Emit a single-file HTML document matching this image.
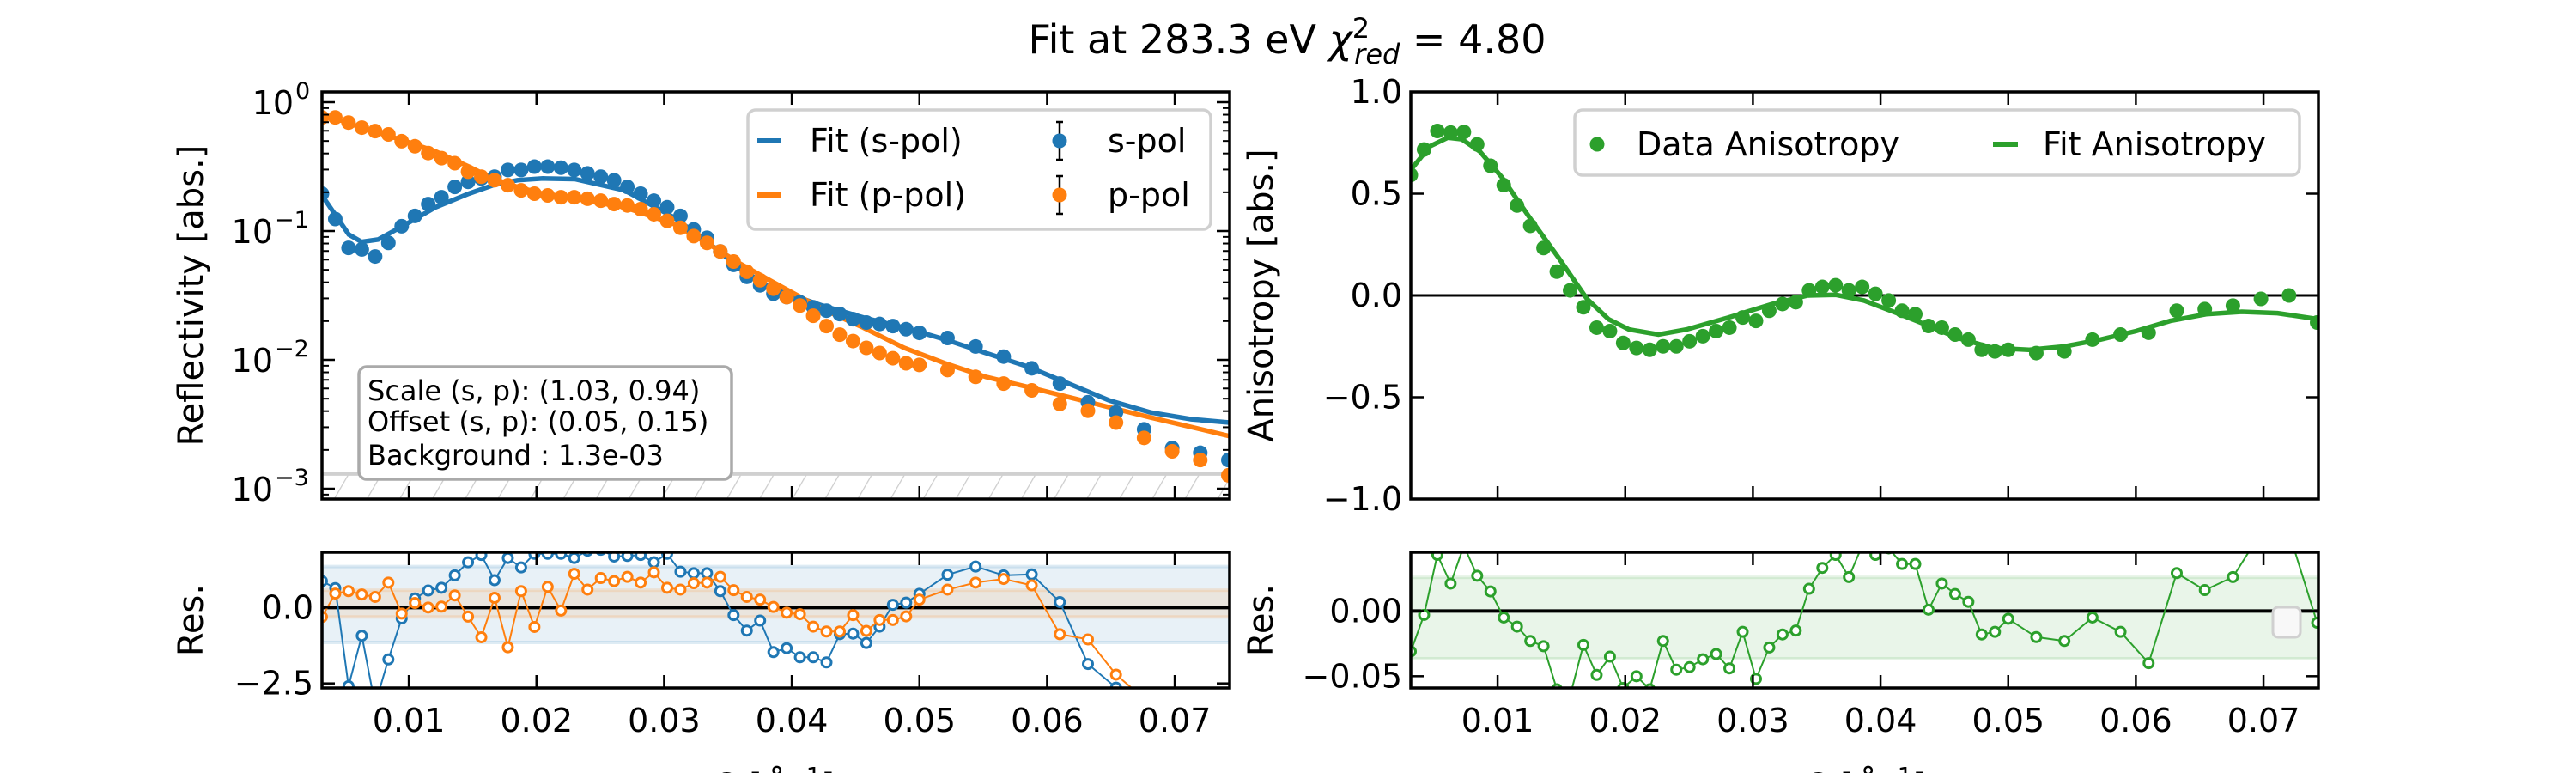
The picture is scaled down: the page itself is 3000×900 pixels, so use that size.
<!DOCTYPE html>
<html><head><meta charset="utf-8"><style>
html,body{margin:0;padding:0;background:#fff;}
svg{display:block;font-family:"DejaVu Sans","Liberation Sans",sans-serif;}
</style></head><body>
<svg id="fig" width="3000" height="900" viewBox="0 0 3000 900" xmlns="http://www.w3.org/2000/svg">
<defs>
<clipPath id="cTL"><rect x="375" y="107" width="1057" height="474"/></clipPath>
<clipPath id="cTR"><rect x="1643" y="107" width="1057" height="474"/></clipPath>
<clipPath id="cBL"><rect x="375" y="643" width="1057" height="158"/></clipPath>
<clipPath id="cBR"><rect x="1643" y="643" width="1057" height="158"/></clipPath>
<pattern id="hatch" patternUnits="userSpaceOnUse" width="33" height="33" patternTransform="rotate(30)">
<line x1="0" y1="0" x2="0" y2="33" stroke="#cccccc" stroke-width="2.5"/></pattern>
</defs>
<text x="1499" y="62" font-size="46" text-anchor="middle">Fit at 283.3 eV <tspan font-style="italic">χ</tspan><tspan font-size="32" dy="-18">2</tspan><tspan font-size="32" font-style="italic" dx="-18" dy="30">red</tspan><tspan dy="-12"> = 4.80</tspan></text>
<g id="gTL"></g>
<g id="gTR"></g>
<g id="gBL"></g>
<g id="gBR"></g>
</svg>
<script>
const q = [0.0032,0.00424,0.00528,0.00632,0.00736,0.0084,0.00944,0.01048,0.01152,0.01256,0.0136,0.01464,0.01568,0.01672,0.01776,0.0188,0.01984,0.02088,0.02192,0.02296,0.024,0.02504,0.02608,0.02712,0.02816,0.0292,0.03024,0.03128,0.03232,0.03336,0.0344,0.03544,0.03648,0.03752,0.03856,0.0396,0.04064,0.04168,0.04272,0.04376,0.0448,0.04584,0.04688,0.04792,0.04896,0.05,0.0522,0.0544,0.0566,0.0588,0.061,0.0632,0.0654,0.0676,0.0698,0.072,0.0742];
const sData = [0.195,0.124,0.074,0.072,0.0635,0.081,0.109,0.131,0.162,0.183,0.22,0.241,0.256,0.264,0.298,0.298,0.316,0.316,0.31,0.298,0.28,0.264,0.248,0.22,0.195,0.172,0.153,0.131,0.103,0.0886,0.0695,0.0546,0.0441,0.0379,0.0326,0.0307,0.028,0.0256,0.0241,0.0227,0.0207,0.0195,0.019,0.0183,0.0173,0.0162,0.0148,0.0127,0.0106,0.0086,0.00654,0.00469,0.00391,0.00289,0.00207,0.0019,0.00167];
const pData = [0.762,0.762,0.695,0.635,0.597,0.562,0.498,0.455,0.403,0.368,0.336,0.289,0.264,0.248,0.227,0.207,0.195,0.189,0.183,0.183,0.178,0.172,0.162,0.158,0.148,0.135,0.12,0.106,0.0914,0.081,0.0695,0.058,0.0483,0.0415,0.0357,0.0307,0.0264,0.022,0.0183,0.0157,0.014,0.0124,0.0113,0.0103,0.0094,0.00914,0.00834,0.00738,0.00654,0.0058,0.00455,0.00403,0.00326,0.00248,0.00195,0.00167,0.00127];
const qFit = [0.0032,0.0044,0.0053,0.0063,0.0076,0.0095,0.0121,0.0147,0.0166,0.0185,0.0205,0.0230,0.0269,0.0308,0.0340,0.0359,0.0385,0.0424,0.0456,0.0488,0.0520,0.0552,0.0585,0.0617,0.0649,0.0681,0.0713,0.0743];
const sFit = [0.189,0.127,0.094,0.0824,0.0859,0.109,0.153,0.195,0.227,0.248,0.256,0.253,0.207,0.127,0.0738,0.0514,0.0357,0.0264,0.0213,0.0178,0.0144,0.0113,0.00886,0.00654,0.00483,0.00391,0.00346,0.00326];
const pFit = [0.809,0.738,0.687,0.635,0.58,0.507,0.415,0.316,0.256,0.22,0.195,0.178,0.153,0.113,0.0738,0.0562,0.0403,0.0248,0.0178,0.0124,0.0094,0.00738,0.00616,0.00514,0.00428,0.00357,0.00301,0.00256];
const aniData = [0.592,0.717,0.808,0.80,0.803,0.742,0.637,0.542,0.442,0.342,0.233,0.117,0.025,-0.058,-0.158,-0.175,-0.233,-0.258,-0.267,-0.25,-0.25,-0.225,-0.2,-0.175,-0.158,-0.108,-0.125,-0.075,-0.042,-0.033,0.025,0.042,0.05,0.025,0.042,0.008,-0.025,-0.075,-0.092,-0.15,-0.158,-0.192,-0.217,-0.267,-0.275,-0.267,-0.283,-0.275,-0.217,-0.192,-0.183,-0.075,-0.067,-0.05,-0.017,0.0,-0.133];
const qAniFit = [0.0032,0.0047,0.0061,0.0072,0.0086,0.0103,0.0125,0.0148,0.0170,0.0187,0.0203,0.0226,0.0248,0.0281,0.0315,0.0343,0.0365,0.0387,0.0415,0.0438,0.0460,0.0488,0.0516,0.0544,0.0572,0.0600,0.0627,0.0655,0.0683,0.0711,0.0743];
const aniFit = [0.617,0.733,0.775,0.767,0.708,0.583,0.383,0.183,-0.017,-0.117,-0.167,-0.192,-0.167,-0.108,-0.042,0.0,0.003,-0.025,-0.092,-0.15,-0.208,-0.258,-0.267,-0.25,-0.217,-0.175,-0.125,-0.092,-0.08,-0.087,-0.117];
const sRes = [0.87,0.64,-2.59,-0.93,-3.2,-1.71,-0.36,0.30,0.56,0.65,1.06,1.49,1.73,0.90,1.63,1.32,1.77,1.77,1.77,1.63,1.87,1.9,1.68,1.70,1.73,1.49,1.77,1.18,1.13,1.13,0.54,-0.25,-0.76,-0.43,-1.47,-1.34,-1.64,-1.64,-1.81,-0.88,-0.86,-1.17,-0.63,0.09,0.16,0.45,1.08,1.35,1.06,1.09,0.18,-1.86,-2.64,-3.5,-4,-4,-4];
const pRes = [-0.31,0.46,0.54,0.43,0.35,0.82,-0.2,0.15,0.0,0.03,0.4,-0.3,-0.98,0.32,-1.31,0.54,-0.64,0.68,-0.10,1.11,0.59,0.97,0.87,1.01,0.82,1.16,0.65,0.59,0.80,0.82,1.01,0.57,0.35,0.26,0.02,-0.17,-0.22,-0.63,-0.79,-0.79,-0.25,-0.77,-0.41,-0.41,-0.29,0.26,0.59,0.82,0.94,0.73,-0.88,-1.05,-2.21,-3.0,-3.5,-3.5,-3.5];
const aniRes = [-0.031,-0.003,0.043,0.021,0.05,0.027,0.015,-0.005,-0.012,-0.023,-0.027,-0.06,-0.065,-0.026,-0.049,-0.035,-0.059,-0.05,-0.06,-0.023,-0.045,-0.043,-0.037,-0.033,-0.044,-0.016,-0.052,-0.028,-0.018,-0.015,0.017,0.033,0.043,0.026,0.05,0.043,0.048,0.036,0.036,0.001,0.021,0.013,0.007,-0.018,-0.016,-0.006,-0.020,-0.023,-0.005,-0.016,-0.040,0.029,0.016,0.026,0.06,0.06,-0.009];
const xTicks = [0.01,0.02,0.03,0.04,0.05,0.06,0.07];
const xTickLabels = ["0.01","0.02","0.03","0.04","0.05","0.06","0.07"];
const aniTicks = [1.0,0.5,0.0,-0.5,-1.0];
const aniTickLabels = ["1.0","0.5","0.0","\u22120.5","\u22121.0"];
const resTicksL = [0.0,-2.5];
const resTickLabelsL = ["0.0","\u22122.5"];
const resTicksR = [0.0,-0.05];
const resTickLabelsR = ["0.00","\u22120.05"];
const decades = [0,-1,-2,-3];
const background = 1.3e-3;
const sBand = [-1.15,1.35], pBand = [-0.31,0.57], gBand = [-0.0366,0.0258];

const NS = "http://www.w3.org/2000/svg";
const C = {s:"#1f77b4", p:"#ff7f0e", g:"#2ca02c"};
function mk(tag, attrs, parent){const e=document.createElementNS(NS,tag);for(const k in attrs)e.setAttribute(k,attrs[k]);if(parent)parent.appendChild(e);return e;}
const Q0=0.0032,Q1=0.0743;
const xL = v => 375 + (v-Q0)/(Q1-Q0)*1057;
const xR = v => 1643 + (v-Q0)/(Q1-Q0)*1057;
const yLog = v => 107 + (0.08 - Math.log10(v))/3.16*474;
const yAni = v => 107 + (1 - v)/2*474;
const yResL = v => 643 + (1.82 - v)/4.47*158;
const yResR = v => 643 + (0.045 - v)/0.104*158;
function path(xs, ys, fx, fy){return xs.map((x,i)=>(i?"L":"M")+fx(x).toFixed(1)+","+fy(ys[i]).toFixed(1)).join("");}

function frame(g, x0, y0, w, h, fx){
  const f = mk("rect",{x:x0,y:y0,width:w,height:h,fill:"none",stroke:"#000","stroke-width":3.5},g);
  
  
  xTicks.forEach(t=>{
    const X=fx(t);
    const a=mk("line",{x1:X,y1:y0,x2:X,y2:y0+15,stroke:"#000","stroke-width":2.5},g);
    
    
    const b=mk("line",{x1:X,y1:y0+h,x2:X,y2:y0+h-15,stroke:"#000","stroke-width":2.5},g);
    
    
  });
}
function yTicks(g, x0, w, vals, labels, fy, len){
  vals.forEach((v,i)=>{
    const Y=fy(v);
    const a=mk("line",{x1:x0,y1:Y,x2:x0+len,y2:Y,stroke:"#000","stroke-width":2.5},g);
    
    
    const b=mk("line",{x1:x0+w,y1:Y,x2:x0+w-len,y2:Y,stroke:"#000","stroke-width":2.5},g);
    
    
    if(labels){
      const t=mk("text",{x:x0-10,y:Y+13,"font-size":38,"text-anchor":"end"},g);
      
      
      t.textContent=labels[i];
    }
  });
}
function xLabels(g, fx){
  xTicks.forEach((t,i)=>{
    const e=mk("text",{x:fx(t),y:852,"font-size":38,"text-anchor":"middle"},g);
    
    
    e.textContent=xTickLabels[i];
  });
}
function ylab(g, x, y, txt, name){
  const e=mk("text",{x:0,y:0,"font-size":40,"text-anchor":"middle",transform:`translate(${x},${y}) rotate(-90)`},g);
  
  
  e.textContent=txt;
}
function xlab(g, x, name){
  const e=mk("text",{x:x,y:929,"font-size":40,"text-anchor":"middle"},g);
  
  
  e.innerHTML='<tspan font-style="italic">Q</tspan> [<tspan font-style="italic">Å</tspan><tspan font-size="28" dy="-16">−1</tspan><tspan dy="16">]</tspan>';
}

/* ---------- Top-left: reflectivity ---------- */
const gTL=document.getElementById("gTL");
const cTL=mk("g",{"clip-path":"url(#cTL)"},gTL);
const hb=mk("rect",{x:375,y:yLog(background),width:1057,height:581-yLog(background),fill:"url(#hatch)"},cTL);


const hl=mk("line",{x1:375,x2:1432,y1:yLog(background),y2:yLog(background),stroke:"#d0d0d0","stroke-width":4},cTL);


[["s",sFit],["p",pFit]].forEach(([k,arr])=>{
  const e=mk("path",{d:path(qFit,arr,xL,yLog),fill:"none",stroke:C[k],"stroke-width":5.5},cTL);
  
  
});
[["s",sData],["p",pData]].forEach(([k,arr])=>{
  arr.forEach((v,i)=>{
    const e=mk("circle",{cx:xL(q[i]),cy:yLog(v),r:8.5,fill:C[k]},cTL);
    
    
  });
});
frame(gTL,375,107,1057,474,xL);
decades.forEach(d=>{
  const Y=yLog(Math.pow(10,d));
  const a=mk("line",{x1:375,y1:Y,x2:390,y2:Y,stroke:"#000","stroke-width":2.5},gTL);
  
  
  const b=mk("line",{x1:1432,y1:Y,x2:1417,y2:Y,stroke:"#000","stroke-width":2.5},gTL);
  
  
  const t=mk("text",{x:d===0?342:318,y:Y+14,"font-size":38,"text-anchor":"end"},gTL);
  
  
  t.textContent="10";
  const s=mk("text",{x:d===0?344:320,y:Y-4,"font-size":27,"text-anchor":"start"},gTL);
  
  
  s.textContent=d===0?"0":"\u2212"+(-d);
  for(let m=2;m<=9;m++){
    const mv=Math.pow(10,d)*m/10;
    const Ym=yLog(mv);
    if(Ym<107||Ym>581)continue;
    const a2=mk("line",{x1:375,y1:Ym,x2:383,y2:Ym,stroke:"#000","stroke-width":2},gTL);
    
    
    const b2=mk("line",{x1:1432,y1:Ym,x2:1424,y2:Ym,stroke:"#000","stroke-width":2},gTL);
    
    
  }
});
ylab(gTL,236,344,"Reflectivity [abs.]","y-axis-title-reflectivity");
/* legend */
const lg=mk("g",{},gTL);


mk("rect",{x:871,y:128,width:539,height:139,rx:9,fill:"#fff","fill-opacity":0.85,stroke:"#d0d0d0","stroke-width":3.5},lg);
[["s","Fit (s-pol)","s-pol",164],["p","Fit (p-pol)","p-pol",227]].forEach(([k,t1,t2,Y])=>{
  const l=mk("line",{x1:882,x2:910,y1:Y,y2:Y,stroke:C[k],"stroke-width":6},lg);
  
  
  const a=mk("text",{x:943,y:Y+13,"font-size":38},lg);
  
  
  a.textContent=t1;
  const eb=mk("line",{x1:1234,x2:1234,y1:Y-22,y2:Y+22,stroke:"#000","stroke-width":2.5},lg);
  
  
  mk("line",{x1:1230,x2:1238,y1:Y-22,y2:Y-22,stroke:"#000","stroke-width":2.5},lg);
  mk("line",{x1:1230,x2:1238,y1:Y+22,y2:Y+22,stroke:"#000","stroke-width":2.5},lg);
  const c=mk("circle",{cx:1234,cy:Y,r:8.5,fill:C[k]},lg);
  
  
  const b=mk("text",{x:1290,y:Y+13,"font-size":38},lg);
  
  
  b.textContent=t2;
});
/* annotation */
const an=mk("g",{},gTL);


mk("rect",{x:418,y:427,width:434,height:131,rx:9,fill:"#fff",stroke:"#aaaaaa","stroke-width":3.5},an);
[["Scale (s, p): (1.03, 0.94)",466],["Offset (s, p): (0.05, 0.15)",502],["Background : 1.3e-03",541]].forEach(([t,Y])=>{
  const e=mk("text",{x:428,y:Y,"font-size":32},an);
  
  
  e.textContent=t;
});

/* ---------- Top-right: anisotropy ---------- */
const gTR=document.getElementById("gTR");
const cTR=mk("g",{"clip-path":"url(#cTR)"},gTR);
const z=mk("line",{x1:1643,x2:2700,y1:yAni(0),y2:yAni(0),stroke:"#000","stroke-width":3},cTR);


const af=mk("path",{d:path(qAniFit,aniFit,xR,yAni),fill:"none",stroke:C.g,"stroke-width":5.5},cTR);


aniData.forEach((v,i)=>{
  const e=mk("circle",{cx:xR(q[i]),cy:yAni(v),r:8.5,fill:C.g},cTR);
  
  
});
frame(gTR,1643,107,1057,474,xR);
yTicks(gTR,1643,1057,aniTicks,aniTickLabels,yAni,15);
ylab(gTR,1482,344,"Anisotropy [abs.]","y-axis-title-anisotropy");
const lg2=mk("g",{},gTR);


mk("rect",{x:1834,y:128,width:844,height:76,rx:9,fill:"#fff","fill-opacity":0.85,stroke:"#d0d0d0","stroke-width":3.5},lg2);
const lm=mk("circle",{cx:1860,cy:168,r:8.5,fill:C.g},lg2);


const lt1=mk("text",{x:1906,y:181,"font-size":38},lg2);


lt1.textContent="Data Anisotropy";
const ll=mk("line",{x1:2321,x2:2350,y1:168,y2:168,stroke:C.g,"stroke-width":6},lg2);


const lt2=mk("text",{x:2379,y:181,"font-size":38},lg2);


lt2.textContent="Fit Anisotropy";

/* ---------- Bottom-left: residuals ---------- */
const gBL=document.getElementById("gBL");
const cBL=mk("g",{"clip-path":"url(#cBL)"},gBL);
[[sBand,"31,119,180"],[pBand,"255,127,14"]].forEach(([b,rgb],j)=>{
  const r=mk("rect",{x:375,y:yResL(b[1]),width:1057,height:yResL(b[0])-yResL(b[1]),fill:`rgba(${rgb},0.1)`,stroke:`rgba(${rgb},0.15)`,"stroke-width":4},cBL);
  
  
});
const z2=mk("line",{x1:375,x2:1432,y1:yResL(0),y2:yResL(0),stroke:"#000","stroke-width":4},cBL);


[["s",sRes],["p",pRes]].forEach(([k,arr])=>{
  const e=mk("path",{d:path(q,arr,xL,yResL),fill:"none",stroke:C[k],"stroke-width":2},cBL);
  
  
  arr.forEach((v,i)=>{
    const c=mk("circle",{cx:xL(q[i]),cy:yResL(v),r:5.5,fill:"#fff",stroke:C[k],"stroke-width":3},cBL);
    
    
  });
});
frame(gBL,375,643,1057,158,xL);
yTicks(gBL,375,1057,resTicksL,resTickLabelsL,yResL,15);
xLabels(gBL,xL);
ylab(gBL,236,722,"Res.","y-axis-title-res-left");
xlab(gBL,900,"x-axis-title-left");

/* ---------- Bottom-right: anisotropy residuals ---------- */
const gBR=document.getElementById("gBR");
const cBR=mk("g",{"clip-path":"url(#cBR)"},gBR);
const gb=mk("rect",{x:1643,y:yResR(gBand[1]),width:1057,height:yResR(gBand[0])-yResR(gBand[1]),fill:"rgba(44,160,44,0.1)",stroke:"rgba(44,160,44,0.12)","stroke-width":4},cBR);


const z3=mk("line",{x1:1643,x2:2700,y1:yResR(0),y2:yResR(0),stroke:"#000","stroke-width":4},cBR);


const rl=mk("path",{d:path(q,aniRes,xR,yResR),fill:"none",stroke:C.g,"stroke-width":2},cBR);


aniRes.forEach((v,i)=>{
  const c=mk("circle",{cx:xR(q[i]),cy:yResR(v),r:5.5,fill:"#fff",stroke:C.g,"stroke-width":3},cBR);
  
  
});
const el=mk("rect",{x:2647,y:707,width:32,height:35,rx:6,fill:"#f8f8f8",stroke:"#d0d0d0","stroke-width":3},gBR);


frame(gBR,1643,643,1057,158,xR);
yTicks(gBR,1643,1057,resTicksR,resTickLabelsR,yResR,15);
xLabels(gBR,xR);
ylab(gBR,1482,722,"Res.","y-axis-title-res-right");
xlab(gBR,2171,"x-axis-title-right");
</script>
</body></html>
